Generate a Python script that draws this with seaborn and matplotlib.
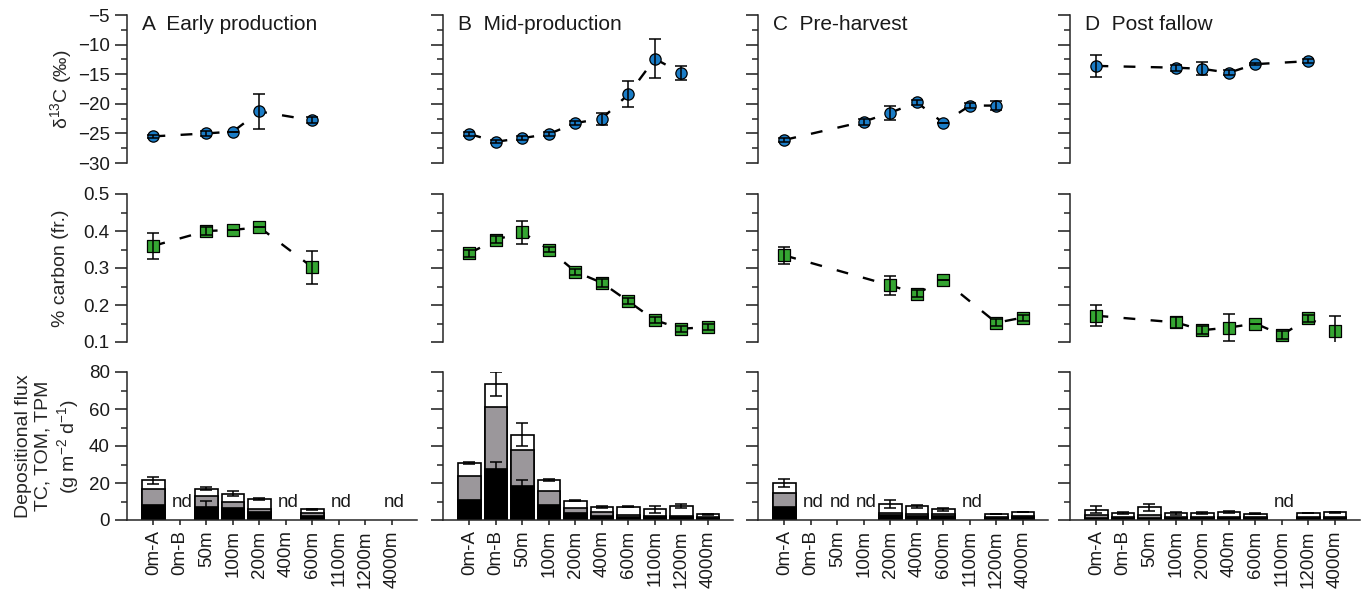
import numpy as np
import pandas as pd
import matplotlib
matplotlib.use("Agg")
import matplotlib.pyplot as plt
import seaborn as sns
from matplotlib.ticker import MultipleLocator

nan = np.nan

stations = ["0m-A", "0m-B", "50m", "100m", "200m", "400m", "600m", "1100m", "1200m", "4000m"]
panel_titles = ["A  Early production", "B  Mid-production", "C  Pre-harvest", "D  Post fallow"]

# delta 13C (per mil), mean and error, one list per production period
d13c_a = [-25.5, nan, -25.0, -24.7, -21.3, nan, -22.8, nan, nan, nan]
d13c_a_err = [0.3, nan, 0.4, 0.0, 2.9, nan, 0.5, nan, nan, nan]
d13c_b = [-25.1, -26.4, -25.8, -25.1, -23.25, -22.5, -18.4, -12.4, -14.8, nan]
d13c_b_err = [0.3, 0.3, 0.3, 0.3, 0.3, 1.0, 2.2, 3.3, 1.2, nan]
d13c_c = [-26.1, nan, nan, -23.0, -21.5, -19.75, -23.25, -20.3, -20.3, nan]
d13c_c_err = [0.3, nan, nan, 0.5, 1.2, 0.4, 0.0, 0.4, 0.8, nan]
d13c_d = [-13.6, nan, nan, -13.9, -14.1, -14.75, -13.3, nan, -12.8, nan]
d13c_d_err = [1.85, nan, nan, 0.5, 1.1, 0.4, 0.2, nan, 0.3, nan]

# carbon content (fraction)
carb_a = [0.36, nan, 0.40, 0.403, 0.41, nan, 0.302, nan, nan, nan]
carb_a_err = [0.035, nan, 0.01, 0.0, 0.0, nan, 0.044, nan, nan, nan]
carb_b = [0.34, 0.377, 0.396, 0.35, 0.29, 0.26, 0.21, 0.159, 0.136, 0.14]
carb_b_err = [0.01, 0.01, 0.03, 0.008, 0.008, 0.01, 0.008, 0.008, 0.008, 0.008]
carb_c = [0.334, nan, nan, nan, 0.253, 0.231, 0.268, nan, 0.152, 0.166]
carb_c_err = [0.022, nan, nan, nan, 0.025, 0.01, 0.0, nan, 0.01, 0.008]
carb_d = [0.171, nan, nan, 0.153, 0.132, 0.139, 0.15, 0.119, 0.164, 0.13]
carb_d_err = [0.028, nan, nan, 0.015, 0.01, 0.037, 0.0, 0.01, 0.01, 0.04]

# depositional flux (g m-2 d-1): total particulate matter, organic matter, carbon
tpm_a = [21.5, nan, 17.0, 14.3, 11.3, nan, 5.7, nan, nan, nan]
tpm_a_err = [1.8, nan, 0.8, 1.4, 0.5, nan, 0.3, nan, nan, nan]
tom_a = [17.0, nan, 13.1, 9.8, 5.9, nan, 3.6, nan, nan, nan]
tc_a = [8.0, nan, 6.8, 6.3, 4.5, nan, 2.3, nan, nan, nan]
tc_a_err = [0.0, nan, 3.4, 0.0, 0.0, nan, 0.0, nan, nan, nan]

tpm_b = [30.8, 73.7, 46.2, 21.5, 10.4, 7.2, 7.2, 5.9, 7.6, 3.0]
tpm_b_err = [0.3, 6.5, 6.1, 0.5, 0.3, 0.5, 0.3, 1.9, 1.3, 0.3]
tom_b = [23.8, 60.9, 37.6, 15.6, 6.3, 4.1, 2.7, 2.0, 2.0, 1.5]
tc_b = [10.7, 27.7, 18.4, 8.0, 3.6, 2.3, 1.8, 1.5, 1.7, 1.0]
tc_b_err = [0.0, 3.6, 3.4, 0.0, 0.0, 0.0, 0.0, 0.0, 0.0, 0.0]

tpm_c = [20.0, nan, nan, nan, 8.6, 7.5, 5.7, nan, 3.0, 4.1]
tpm_c_err = [2.3, nan, nan, nan, 2.1, 0.8, 1.0, nan, 0.0, 0.0]
tom_c = [14.7, nan, nan, nan, 3.9, 3.3, 3.0, nan, 1.8, 2.2]
tc_c = [7.2, nan, nan, nan, 2.7, 2.3, 2.0, nan, 1.2, 1.5]
tc_c_err = [0.0, nan, nan, nan, 0.0, 0.0, 0.0, nan, 0.0, 0.0]

tpm_d = [5.5, 3.8, 6.8, 3.6, 3.9, 4.3, 3.4, nan, 3.8, 4.1]
tpm_d_err = [1.8, 0.3, 1.8, 0.8, 0.5, 0.3, 0.3, nan, 0.0, 0.3]
tom_d = [2.6, 1.8, 2.5, 1.8, 1.8, 1.8, 1.7, nan, 1.7, 1.8]
tc_d = [1.3, 1.0, 1.3, 1.0, 1.0, 1.0, 1.0, nan, 1.0, 1.0]
tc_d_err = [0.0, 0.0, 0.0, 0.0, 0.0, 0.0, 0.0, nan, 0.0, 0.0]

# stations with no data collected
nd_a = ["0m-B", "400m", "1100m", "4000m"]
nd_b = []
nd_c = ["0m-B", "50m", "100m", "1100m"]
nd_d = ["1100m"]

d13c = [(d13c_a, d13c_a_err), (d13c_b, d13c_b_err), (d13c_c, d13c_c_err), (d13c_d, d13c_d_err)]
carb = [(carb_a, carb_a_err), (carb_b, carb_b_err), (carb_c, carb_c_err), (carb_d, carb_d_err)]
flux = [(tpm_a, tpm_a_err, tom_a, tc_a, tc_a_err), (tpm_b, tpm_b_err, tom_b, tc_b, tc_b_err),
        (tpm_c, tpm_c_err, tom_c, tc_c, tc_c_err), (tpm_d, tpm_d_err, tom_d, tc_d, tc_d_err)]
nd_lists = [nd_a, nd_b, nd_c, nd_d]

sns.set_theme(style="ticks")
plt.rcParams["font.family"] = ["Liberation Sans", "DejaVu Sans"]
plt.rcParams["mathtext.fontset"] = "custom"
plt.rcParams["mathtext.rm"] = "Liberation Sans"
plt.rcParams["mathtext.it"] = "Liberation Sans:italic"
plt.rcParams["axes.linewidth"] = 1.1
plt.rcParams["text.color"] = "#1a1a1a"

BLUE = "#1a7cc6"
GREEN = "#35a532"
GREY = "#9b979b"
TICK_FS = 13.5
LABEL_FS = 14
TITLE_FS = 15

W, H = 1368, 590
fig = plt.figure(figsize=(W / 100, H / 100), dpi=100)

lefts = [127, 443, 758, 1070]
bottoms = [427, 248, 70]
aw, ah = 290, 148
pos = np.arange(len(stations))
dash = (0, (5, 6.5))


def style_y(ax, lo, hi, major, minor, show_labels):
    ax.set_ylim(lo, hi)
    ax.yaxis.set_major_locator(MultipleLocator(major))
    ax.yaxis.set_minor_locator(MultipleLocator(minor))
    ax.tick_params(axis="y", which="major", length=9, width=1.1, labelsize=TICK_FS,
                   labelleft=show_labels, colors="#1a1a1a")
    ax.tick_params(axis="y", which="minor", length=4.5, width=1.1)
    ax.spines["top"].set_visible(False)
    ax.spines["right"].set_visible(False)
    ax.set_xlim(-1, 9.95)


def point_series(ax, vals, errs, marker, color, size):
    v = np.array(vals, dtype=float)
    e = np.array(errs, dtype=float)
    ok = ~np.isnan(v)
    df = pd.DataFrame({"x": pos[ok], "y": v[ok], "e": e[ok]})
    sns.lineplot(data=df, x="x", y="y", ax=ax, color="black", lw=1.7,
                 linestyle=dash, sort=False, zorder=2, estimator=None)
    sns.scatterplot(data=df, x="x", y="y", ax=ax, marker=marker, s=size,
                    color=color, edgecolor="black", linewidth=0.9, zorder=3)
    ax.errorbar(df["x"], df["y"], yerr=df["e"], fmt="none", ecolor="black",
                elinewidth=1.1, capsize=4.5, capthick=1.1, zorder=4)
    ax.set_xlabel("")
    ax.set_ylabel("")


for j in range(4):
    x0 = lefts[j] / W
    # top row: delta 13C
    ax = fig.add_axes([x0, bottoms[0] / H, aw / W, ah / H])
    point_series(ax, d13c[j][0], d13c[j][1], "o", BLUE, 66)
    style_y(ax, -30, -5, 5, 2.5, j == 0)
    ax.spines["bottom"].set_visible(False)
    ax.set_xticks([])
    ax.text(0.052, 1.0, panel_titles[j], transform=ax.transAxes, ha="left",
            va="top", fontsize=TITLE_FS)
    if j == 0:
        ax.set_ylabel(r"$\mathregular{\delta^{13}}$C (‰)", fontsize=LABEL_FS, va="center")
        ax.yaxis.set_label_coords(-0.228, 0.5)

    # middle row: carbon fraction
    ax = fig.add_axes([x0, bottoms[1] / H, aw / W, ah / H])
    point_series(ax, carb[j][0], carb[j][1], "s", GREEN, 72)
    style_y(ax, 0.1, 0.5, 0.1, 0.05, j == 0)
    ax.spines["bottom"].set_visible(False)
    ax.set_xticks([])
    if j == 0:
        ax.set_ylabel("% carbon (fr.)", fontsize=LABEL_FS, va="center")
        ax.yaxis.set_label_coords(-0.228, 0.5)

    # bottom row: stacked depositional flux bars
    ax = fig.add_axes([x0, bottoms[2] / H, aw / W, ah / H])
    tpm, tpm_err, tom, tc, tc_err = flux[j]
    df = pd.DataFrame({"station": stations, "tpm": tpm, "tpm_err": tpm_err,
                       "tom": tom, "tc": tc, "tc_err": tc_err})
    for col, colour in (("tpm", "white"), ("tom", GREY), ("tc", "black")):
        sns.barplot(data=df, x="station", y=col, order=stations, color=colour,
                    saturation=1, edgecolor="black", linewidth=1.2, width=0.85,
                    errorbar=None, ax=ax, zorder=2)
    ok = ~df["tpm"].isna()
    ax.errorbar(pos[ok], df["tpm"][ok], yerr=df["tpm_err"][ok], fmt="none",
                ecolor="black", elinewidth=1.1, capsize=4.5, capthick=1.1, zorder=5)
    okc = ok & (df["tc_err"].fillna(0) > 0)
    ax.errorbar(pos[okc], df["tc"][okc], yerr=df["tc_err"][okc], fmt="none",
                ecolor="black", elinewidth=1.1, capsize=4.5, capthick=1.1, zorder=5)
    for st in nd_lists[j]:
        ax.text(stations.index(st) + 0.1, 9.5, "nd", ha="center", va="center",
                fontsize=13.5)
    style_y(ax, 0, 80, 20, 10, j == 0)
    ax.set_xticks(pos)
    ax.set_xticklabels(stations, rotation=90, fontsize=TICK_FS)
    ax.tick_params(axis="x", length=3.5, width=1.1, pad=4, colors="#1a1a1a")
    ax.set_xlabel("")
    ax.set_ylabel("")
    if j == 0:
        ax.set_ylabel("Depositional flux\nTC, TOM, TPM\n(g m$^{-2}$ d$^{-1}$)",
                      fontsize=LABEL_FS, va="center", linespacing=1.2)
        ax.yaxis.set_label_coords(-0.272, 0.5)

fig.savefig("out.png", dpi=100)
